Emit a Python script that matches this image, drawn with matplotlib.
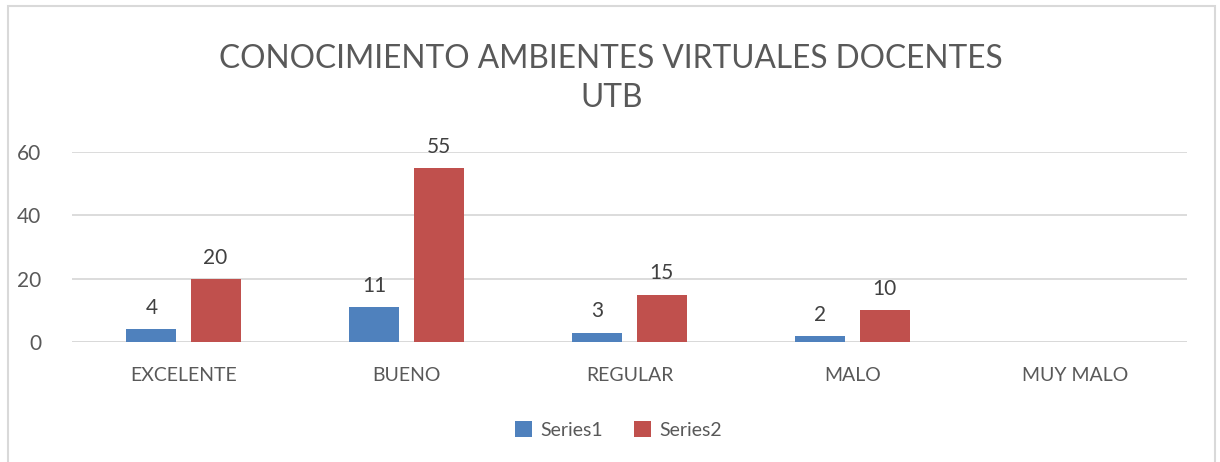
import numpy as np
import matplotlib.pyplot as plt
from matplotlib.patches import Rectangle

plt.rcParams['font.family'] = ['Lato', 'DejaVu Sans']

# Datos
categorias = ["EXCELENTE", "BUENO", "REGULAR", "MALO", "MUY MALO"]
serie1 = [4, 11, 3, 2, np.nan]
serie2 = [20, 55, 15, 10, np.nan]
nombres = ["Series1", "Series2"]
titulo = "CONOCIMIENTO AMBIENTES VIRTUALES DOCENTES\nUTB"

azul = "#4F81BD"
rojo = "#C0504D"
gris_texto = "#595959"
gris_linea = "#D9D9D9"

fig = plt.figure(figsize=(12.2, 4.62), dpi=100)
ax = fig.add_axes([0.059, 0.2597, 0.914, 0.4113])

x = np.arange(len(categorias))
ancho = 0.224
desp = 0.144
b1 = ax.bar(x - desp, serie1, ancho, color=azul, label=nombres[0], zorder=3)
b2 = ax.bar(x + desp, serie2, ancho, color=rojo, label=nombres[1], zorder=3)

# Etiquetas de datos
for barras, vals in ((b1, serie1), (b2, serie2)):
    for r, v in zip(barras, vals):
        if np.isnan(v):
            continue
        ax.annotate(f"{v:g}", (r.get_x() + r.get_width() / 2, v),
                    xytext=(0, 8), textcoords="offset points",
                    ha="center", va="bottom", fontsize=15, color="#404040",
                    annotation_clip=False)

ax.set_xlim(-0.5, len(categorias) - 0.5)
ax.set_ylim(0, 60)
ax.set_yticks([0, 20, 40, 60])
ax.set_xticks(x)
ax.set_xticklabels(categorias)
ax.tick_params(axis="x", length=0, pad=18, labelsize=14, labelcolor=gris_texto)
ax.tick_params(axis="y", length=0, pad=22, labelsize=15, labelcolor=gris_texto)
ax.grid(axis="y", color=gris_linea, linewidth=1.3, zorder=0)
for s in ax.spines.values():
    s.set_visible(False)
ax.axhline(0, color=gris_linea, linewidth=1.3, zorder=2)

fig.text(0.501, 0.83, titulo, ha="center", va="center", fontsize=22.8,
         color=gris_texto, linespacing=1.35)

ax.legend(loc="upper center", bbox_to_anchor=(0.49, -0.325), ncol=2,
          frameon=False, fontsize=14, handlelength=0.9, handleheight=0.9,
          handletextpad=0.4, columnspacing=1.6, labelcolor=gris_texto)

# Marco del gráfico
fig.patches.append(Rectangle((8 / 1220, -0.01), 1207 / 1220, 1 - 6 / 462 + 0.01,
                             transform=fig.transFigure, fill=False,
                             edgecolor="#D9D9D9", linewidth=1.5))

fig.savefig("out.png", dpi=100)
